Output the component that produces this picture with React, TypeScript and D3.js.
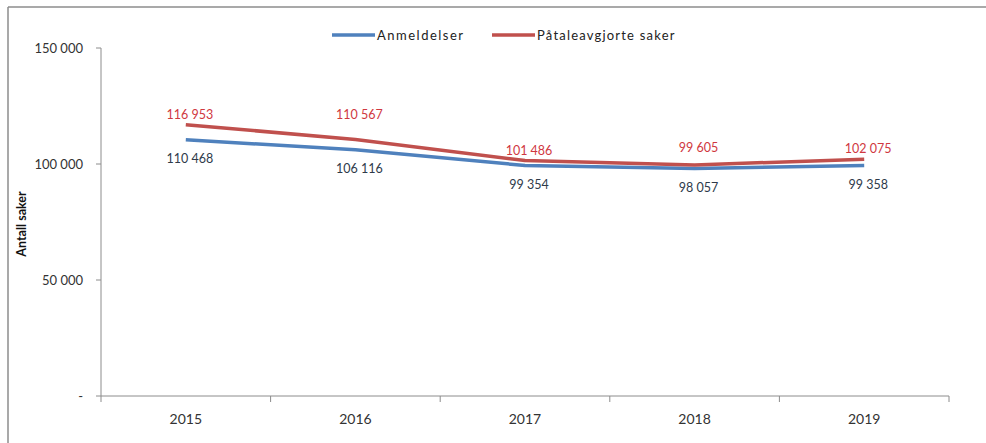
import React from "react";
import * as d3 from "d3";

const years = ["2015", "2016", "2017", "2018", "2019"];
const anmeldelser = [110468, 106116, 99354, 98057, 99358];
const paatale = [116953, 110567, 101486, 99605, 102075];
const yTicks = [0, 50000, 100000, 150000];
const seriesNames = ["Anmeldelser", "Påtaleavgjorte saker"];
const yTitle = "Antall saker";

// label layout (vertical offsets of the red labels, as placed in the reference)
const redLabelDy = [-10, -25, -10, -17, -11];
const blueLabelDy = 19;

const BLUE = "#4F81BD";
const RED = "#C0504D";
const FONT = "Lato, 'Open Sans', sans-serif";

const loc = d3.formatLocale({ decimal: ",", thousands: " ", grouping: [3], currency: ["", ""] });
const fmt = loc.format(",d");

export default function App() {
  const W = 986, H = 443;
  const x = d3.scaleBand().domain(years).range([101, 949]).padding(0);
  const y = d3.scaleLinear().domain([0, 150000]).range([396, 48]);
  const cx = (i: number) => (x(years[i]) as number) + x.bandwidth() / 2;
  const line = d3.line<number>().x((_, i) => cx(i)).y((d) => y(d));

  return (
    <svg width={W} height={H} style={{ position: "absolute", left: 0, top: 0, background: "#fff" }} fontFamily={FONT}>
      <rect x={0} y={0} width={W} height={H} fill="#fff" />
      {/* frame */}
      <line x1={8} y1={7} x2={W} y2={7} stroke="#8c8c8c" strokeWidth={1.5} />
      <line x1={8} y1={7} x2={8} y2={H} stroke="#8c8c8c" strokeWidth={1.5} />

      {/* y axis */}
      <line x1={101} y1={y(150000)} x2={101} y2={y(0)} stroke="#8c8c8c" strokeWidth={1} />
      {yTicks.map((t) => (
        <g key={t}>
          <line x1={96} x2={101} y1={y(t)} y2={y(t)} stroke="#8c8c8c" />
          <text x={83} y={y(t)} dy="0.35em" textAnchor="end" fontSize={13} fill="#333">
            {t === 0 ? "-" : fmt(t)}
          </text>
        </g>
      ))}
      <text transform={`translate(26,224) rotate(-90)`} textAnchor="middle" fontSize={12.5} fontWeight="bold" fill="#111">
        {yTitle}
      </text>

      {/* x axis */}
      <line x1={101} x2={949} y1={396} y2={396} stroke="#8c8c8c" strokeWidth={1} />
      {[...years.map((yr) => x(yr) as number), 949].map((px, i) => (
        <line key={i} x1={px} x2={px} y1={396} y2={402} stroke="#8c8c8c" />
      ))}
      {years.map((yr, i) => (
        <text key={yr} x={cx(i)} y={419} dy="0.35em" textAnchor="middle" fontSize={14} fill="#333">
          {yr}
        </text>
      ))}

      {/* lines */}
      <path d={line(anmeldelser) || ""} fill="none" stroke={BLUE} strokeWidth={3.5} strokeLinejoin="round" />
      <path d={line(paatale) || ""} fill="none" stroke={RED} strokeWidth={3.5} strokeLinejoin="round" />

      {/* labels */}
      {paatale.map((v, i) => (
        <text key={"r" + i} x={cx(i) + 4} y={y(v) + redLabelDy[i]} dy="0.35em" textAnchor="middle" fontSize={12.5} fill="#D0383F">
          {fmt(v)}
        </text>
      ))}
      {anmeldelser.map((v, i) => (
        <text key={"b" + i} x={cx(i) + 4} y={y(v) + blueLabelDy} dy="0.35em" textAnchor="middle" fontSize={12.5} fill="#2e3a4a">
          {fmt(v)}
        </text>
      ))}

      {/* legend */}
      <line x1={332} x2={375} y1={35} y2={35} stroke={BLUE} strokeWidth={3.5} />
      <text x={377} y={35} dy="0.35em" fontSize={13} fill="#222" letterSpacing={1.5}>{seriesNames[0]}</text>
      <line x1={492} x2={535} y1={35} y2={35} stroke={RED} strokeWidth={3.5} />
      <text x={537} y={35} dy="0.35em" fontSize={13} fill="#222" letterSpacing={1.2}>{seriesNames[1]}</text>
    </svg>
  );
}
